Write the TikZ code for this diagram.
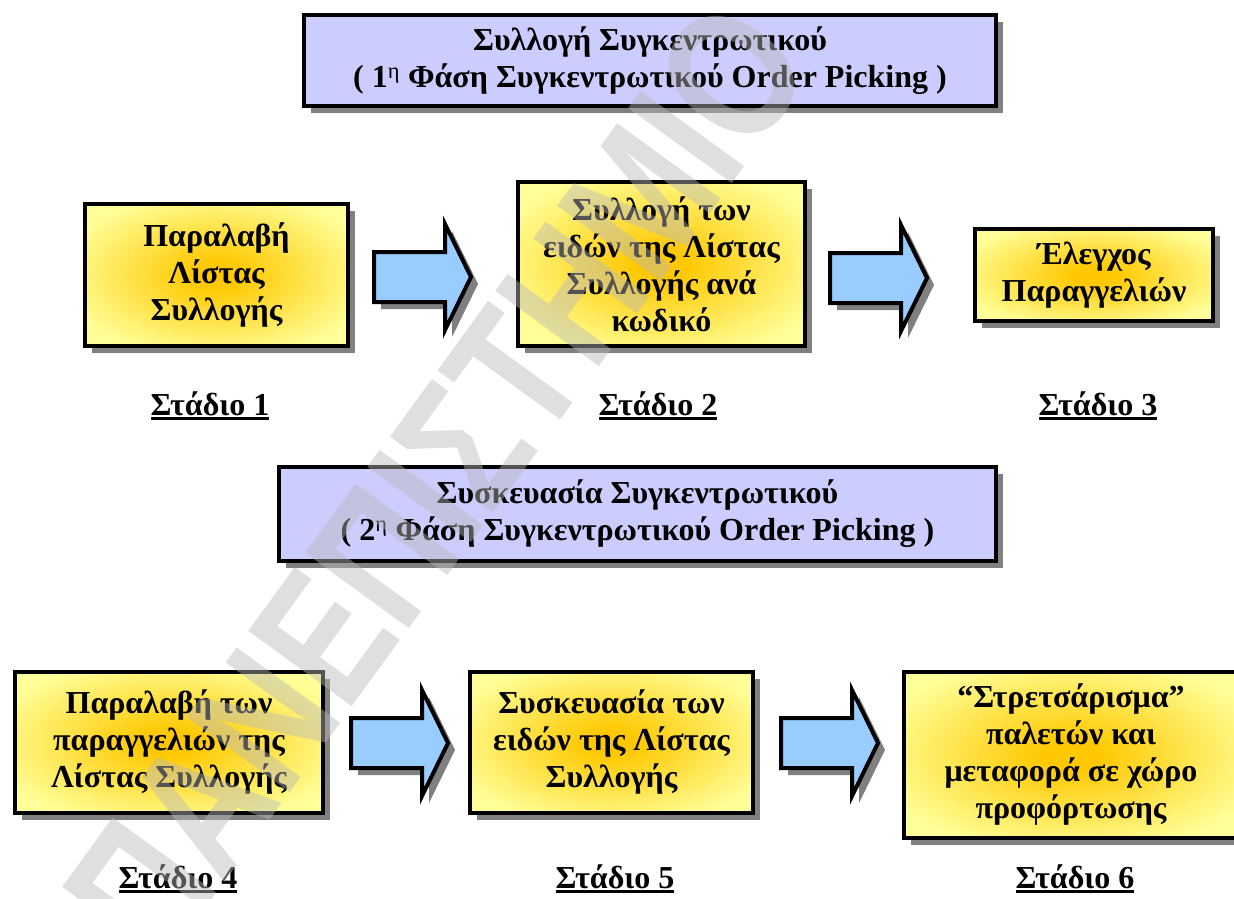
\documentclass[tikz,border=0pt]{standalone}
\usepackage{fontspec}
\setmainfont{Liberation Serif}
\newfontfamily\wmfont{Liberation Sans}
\usetikzlibrary{shadows}

\definecolor{titlefill}{HTML}{CCCCFF}
\definecolor{arrowfill}{HTML}{99CCFF}
\definecolor{shadowgray}{HTML}{808080}
\definecolor{glowin}{HTML}{FFC800}
\definecolor{glowout}{HTML}{FFFF99}

\pgfdeclareradialshading{glow}{\pgfpoint{0bp}{0bp}}{%
  color(0bp)=(glowin); color(4bp)=(glowin); color(30bp)=(glowout); color(50bp)=(glowout)}

% underlined stage caption with a heavy rule
\newcommand\stagecap[1]{\setbox0\hbox{#1}\rlap{\rule[-5pt]{\wd0}{2.6pt}}\box0}

\tikzset{
  boxshadow/.style={general shadow={fill=shadowgray, shadow xshift=7pt, shadow yshift=-7pt}},
  basebox/.style={draw=black, line width=4pt, rectangle, inner sep=0pt, outer sep=0pt,
    align=center, boxshadow, font=\fontsize{32}{37}\selectfont\bfseries},
  phasebox/.style={basebox, fill=titlefill},
  stagebox/.style={basebox, shading=glow},
  stagelabel/.style={anchor=base, inner sep=0pt, font=\fontsize{32}{37}\selectfont\bfseries},
  blockarrow/.pic={
    \draw[line width=4pt, fill=arrowfill, line join=miter, miter limit=10, boxshadow]
      (0,-25) -- (71,-25) -- (71,-53) -- (97,0) -- (71,53) -- (71,25) -- (0,25) -- cycle;
  }
}

\begin{document}
\begin{tikzpicture}[x=1pt,y=-1pt]
\useasboundingbox (0,0) rectangle (1234,899);
\fill[white] (0,0) rectangle (1234,899);

% phase headers
\node[phasebox, minimum width=692, minimum height=91] (ph1) at (650,60.5)
  {Συλλογή Συγκεντρωτικού\\( 1\textsuperscript{\mdseries η} Φάση Συγκεντρωτικού Order Picking )};
\node[phasebox, minimum width=717, minimum height=94] (ph2) at (637.5,514)
  {Συσκευασία Συγκεντρωτικού\\( 2\textsuperscript{\mdseries η} Φάση Συγκεντρωτικού Order Picking )};

% first phase stages
\node[stagebox, minimum width=263, minimum height=142] (s1) at (216.5,275)
  {Παραλαβή\\Λίστας\\Συλλογής};
\node[stagebox, minimum width=287, minimum height=164] (s2) at (661.5,264)
  {Συλλογή των\\ειδών της Λίστας\\Συλλογής ανά\\κωδικό};
\node[stagebox, minimum width=238, minimum height=92] (s3) at (1094,275)
  {Έλεγχος\\Παραγγελιών};

% second phase stages
\node[stagebox, minimum width=308, minimum height=141] (s4) at (169,742.5)
  {Παραλαβή των\\παραγγελιών της\\Λίστας Συλλογής};
\node[stagebox, minimum width=283, minimum height=141] (s5) at (611.5,742.5)
  {Συσκευασία των\\ειδών της Λίστας\\Συλλογής};
\node[stagebox, minimum width=334, minimum height=166] (s6) at (1071,755)
  {“Στρετσάρισμα”\\παλετών και\\μεταφορά σε χώρο\\προφόρτωσης};

% block arrows between stages
\coordinate (a1) at (374,277);
\coordinate (a2) at (830,278);
\coordinate (a3) at (351,743);
\coordinate (a4) at (781,743);
\pic at (a1) {blockarrow};
\pic at (a2) {blockarrow};
\pic at (a3) {blockarrow};
\pic at (a4) {blockarrow};

% stage captions
\node[stagelabel] (l1) at (210,415) {\stagecap{Στάδιο 1}};
\node[stagelabel] (l2) at (658,415) {\stagecap{Στάδιο 2}};
\node[stagelabel] (l3) at (1098,415) {\stagecap{Στάδιο 3}};
\node[stagelabel] (l4) at (178,888) {\stagecap{Στάδιο 4}};
\node[stagelabel] (l5) at (615,888) {\stagecap{Στάδιο 5}};
\node[stagelabel] (l6) at (1075,888) {\stagecap{Στάδιο 6}};

% diagonal watermark, condensed along its baseline
\begin{scope}
  \clip (0,0) rectangle (1234,899);
  \node[rotate=54, xscale=0.785, text=gray!55, opacity=0.45, inner sep=0pt,
        font=\wmfont\bfseries\fontsize{186}{186}\selectfont] (wm) at (437,481)
    {ΠΑΝΕΠΙΣΤΗΜΙΟ};
\end{scope}
\end{tikzpicture}
\end{document}
